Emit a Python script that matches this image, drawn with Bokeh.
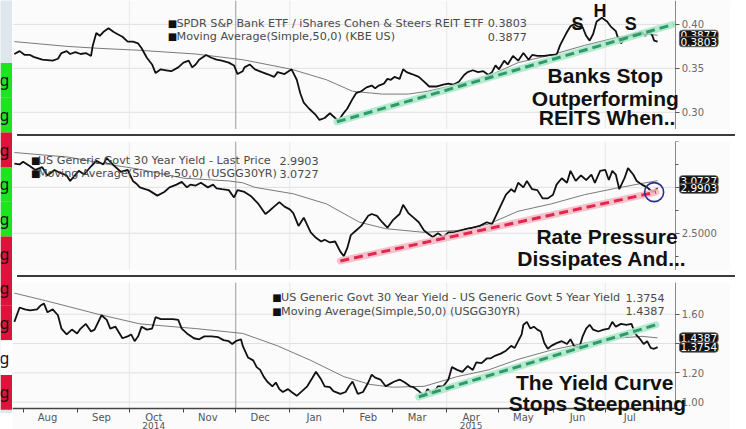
import numpy as np
from bokeh.plotting import figure
from bokeh.models import Range1d, FixedTicker, Label, Div, NumeralTickFormatter
from bokeh.layouts import row, column
from bokeh.embed import file_html
from bokeh.resources import INLINE
from bokeh.core.properties import value

# ---------------- data (x = calendar days counted from 2014-07-28) ----------------
month_mid_days = [18, 49, 79, 110, 140, 171, 202, 230, 261, 291, 322, 352]
month_labels = ["Aug", "Sep", "Oct", "Nov", "Dec", "Jan", "Feb", "Mar", "Apr", "May", "Jun", "Jul"]
year_days = [79, 261]
year_labels = ["2014", "2015"]
month_start_days = [4, 35, 65, 96, 126, 157, 188, 216, 247, 277, 308, 338, 369]
quarter_start_days = [65, 157, 247, 338]
cursor_days = [126]

# KBE / ICF ratio
bank_days = [-1, 2, 5, 8, 10, 15, 21, 24, 26, 29, 31, 34, 37, 40, 43, 44, 46, 48, 50, 53,
             56, 58, 61, 64, 67, 70, 72, 75, 78, 80, 83, 86, 89, 93, 96, 99, 101, 103, 105, 109,
             112, 115, 118, 122, 125, 127, 130, 131, 134, 137, 141, 144, 148, 150, 154, 158, 161, 163, 165, 168,
             172, 174, 177, 180, 183, 185, 187, 190, 193, 195, 198, 201, 204, 206, 208, 211, 213, 215, 217, 220,
             222, 224, 227, 231, 234, 237, 241, 245, 248, 251, 254, 257, 259, 262, 265, 268, 271, 273, 275, 277,
             280, 282, 285, 288, 291, 294, 296, 299, 303, 307, 310, 312, 314, 316, 318, 320, 322, 325, 327, 329,
             331, 333, 336, 339, 341, 344, 345, 347, 349, 352, 355, 359, 361, 363, 365, 366, 368]
bank_vals = [0.3663, 0.3696, 0.3652, 0.3652, 0.3630, 0.3598, 0.3587, 0.3609, 0.3674, 0.3696,
             0.3663, 0.3685, 0.3663, 0.3674, 0.3641, 0.3761, 0.3902, 0.3870, 0.3913, 0.3957,
             0.3913, 0.3891, 0.3859, 0.3804, 0.3804, 0.3783, 0.3728, 0.3620, 0.3544, 0.3446,
             0.3489, 0.3478, 0.3467, 0.3511, 0.3565, 0.3587, 0.3511, 0.3544, 0.3598, 0.3652,
             0.3620, 0.3598, 0.3587, 0.3565, 0.3533, 0.3435, 0.3467, 0.3511, 0.3544, 0.3489,
             0.3457, 0.3435, 0.3402, 0.3457, 0.3435, 0.3489, 0.3370, 0.3217, 0.3109, 0.3043,
             0.2967, 0.2913, 0.2935, 0.2989, 0.2935, 0.2902, 0.2967, 0.3043, 0.3152, 0.3217,
             0.3239, 0.3283, 0.3304, 0.3272, 0.3304, 0.3326, 0.3380, 0.3370, 0.3402, 0.3380,
             0.3489, 0.3457, 0.3435, 0.3402, 0.3348, 0.3293, 0.3293, 0.3315, 0.3326, 0.3315,
             0.3348, 0.3424, 0.3457, 0.3478, 0.3457, 0.3467, 0.3424, 0.3457, 0.3533, 0.3489,
             0.3587, 0.3544, 0.3641, 0.3587, 0.3674, 0.3598, 0.3652, 0.3641, 0.3641, 0.3652,
             0.3652, 0.3761, 0.3837, 0.3913, 0.3978, 0.4000, 0.3978, 0.3967, 0.3870, 0.3815,
             0.3891, 0.4032, 0.4076, 0.4032, 0.3978, 0.3924, 0.3859, 0.3783, 0.3837, 0.3870,
             0.3891, 0.3913, 0.3870, 0.3924, 0.3870, 0.3815, 0.3803]
bank_ma_days = [-1, 29, 47, 70, 103, 130, 158, 178, 193, 210, 225, 236, 253, 271, 288, 307, 326, 344, 359, 368]
bank_ma_vals = [0.3804, 0.3750, 0.3728, 0.3706, 0.3663, 0.3598, 0.3489, 0.3370, 0.3239, 0.3207,
                0.3207, 0.3239, 0.3315, 0.3413, 0.3565, 0.3652, 0.3761, 0.3848, 0.3891, 0.3877]
bank_last, bank_ma_last = 0.3803, 0.3877

# US 30Y yield
yld_days = [-1, 2, 4, 8, 11, 15, 18, 22, 25, 29, 31, 36, 39, 43, 46, 50, 52, 56, 60, 64,
            67, 69, 71, 74, 76, 81, 85, 88, 92, 95, 98, 100, 103, 106, 110, 113, 115, 118, 122, 125,
            127, 131, 135, 139, 143, 145, 148, 151, 154, 157, 159, 162, 165, 169, 172, 175, 177, 180, 183, 186,
            188, 190, 192, 195, 198, 202, 204, 207, 210, 213, 216, 220, 222, 225, 228, 231, 234, 236, 239, 242,
            245, 248, 251, 255, 259, 262, 266, 270, 273, 277, 281, 284, 286, 288, 291, 293, 296, 299, 302, 305,
            308, 310, 313, 316, 318, 321, 324, 327, 330, 332, 335, 338, 340, 342, 344, 346, 349, 351, 354, 356,
            359, 362, 365, 368]
yld_vals = [3.26, 3.25, 3.28, 3.23, 3.19, 3.22, 3.13, 3.19, 3.16, 3.13, 3.07, 3.18, 3.14, 3.23, 3.29, 3.25,
            3.32, 3.24, 3.17, 3.19, 3.07, 3.04, 3.00, 2.98, 2.97, 2.91, 2.95, 3.00, 3.03, 3.06, 3.00, 3.03,
            3.02, 3.05, 3.00, 3.03, 2.99, 2.98, 2.97, 2.89, 2.97, 2.95, 2.90, 2.82, 2.71, 2.74, 2.79, 2.84,
            2.79, 2.76, 2.72, 2.58, 2.67, 2.51, 2.45, 2.41, 2.43, 2.40, 2.41, 2.30, 2.25, 2.34, 2.48, 2.53,
            2.58, 2.69, 2.71, 2.69, 2.62, 2.56, 2.64, 2.71, 2.81, 2.72, 2.67, 2.62, 2.53, 2.50, 2.46, 2.50,
            2.46, 2.51, 2.51, 2.53, 2.55, 2.56, 2.58, 2.62, 2.60, 2.76, 2.92, 2.98, 2.95, 3.05, 3.00, 3.07,
            2.98, 2.97, 2.88, 2.88, 2.92, 3.03, 3.10, 3.05, 3.18, 3.07, 3.13, 3.08, 3.14, 3.05, 3.18, 3.19,
            3.08, 3.18, 3.14, 2.98, 3.10, 3.21, 3.14, 3.07, 3.03, 3.00, 2.95, 2.9903]
yld_ma_days = [-1, 30, 50, 70, 96, 122, 130, 137, 159, 178, 197, 212, 234, 253, 271, 288, 307, 326, 344, 358, 368]
yld_ma_vals = [3.38, 3.33, 3.26, 3.20, 3.10, 3.07, 3.05, 3.00, 2.93, 2.82, 2.62, 2.55, 2.51, 2.53, 2.60,
               2.74, 2.82, 2.92, 2.99, 3.04, 3.0727]
yld_last, yld_ma_last = 2.9903, 3.0727

# 30Y - 5Y spread
curve_days = [-1, 2, 5, 8, 12, 14, 16, 18, 21, 24, 26, 29, 32, 35, 37, 40, 43, 45, 49, 52,
              54, 57, 61, 64, 66, 68, 70, 72, 75, 78, 80, 83, 86, 90, 93, 95, 98, 102, 105, 108,
              112, 116, 119, 122, 124, 126, 129, 130, 133, 136, 138, 140, 142, 144, 147, 149, 151, 153, 156, 158,
              161, 164, 167, 170, 172, 175, 177, 180, 182, 186, 189, 191, 193, 196, 199, 202, 204, 206, 209, 212,
              214, 217, 220, 223, 226, 228, 231, 234, 236, 239, 242, 245, 248, 250, 253, 256, 259, 262, 264, 267,
              270, 272, 275, 278, 281, 284, 286, 288, 290, 291, 293, 295, 297, 299, 301, 303, 305, 307, 310, 313,
              316, 318, 320, 323, 325, 327, 329, 331, 334, 337, 340, 342, 344, 347, 350, 353, 355, 358, 360, 362,
              364, 366, 368]
curve_vals = [1.548, 1.646, 1.633, 1.626, 1.633, 1.659, 1.672, 1.613, 1.633, 1.593, 1.502, 1.462, 1.495,
              1.469, 1.502, 1.534, 1.482, 1.495, 1.593, 1.561, 1.502, 1.515, 1.436, 1.449, 1.462, 1.416,
              1.449, 1.515, 1.495, 1.502, 1.580, 1.567, 1.567, 1.567, 1.561, 1.502, 1.469, 1.436, 1.429,
              1.449, 1.449, 1.443, 1.423, 1.416, 1.397, 1.416, 1.429, 1.384, 1.305, 1.285, 1.239, 1.220,
              1.174, 1.141, 1.108, 1.134, 1.089, 1.069, 1.089, 1.069, 1.043, 1.075, 1.108, 1.167, 1.207,
              1.154, 1.108, 1.102, 1.075, 1.056, 1.069, 1.108, 1.141, 1.056, 1.069, 1.134, 1.187, 1.167,
              1.154, 1.108, 1.121, 1.141, 1.154, 1.134, 1.108, 1.102, 1.075, 1.043, 1.089, 1.056, 1.108,
              1.108, 1.154, 1.239, 1.220, 1.207, 1.246, 1.220, 1.272, 1.266, 1.298, 1.298, 1.318, 1.331,
              1.351, 1.384, 1.370, 1.416, 1.462, 1.528, 1.548, 1.502, 1.515, 1.495, 1.482, 1.403, 1.364,
              1.384, 1.403, 1.416, 1.397, 1.429, 1.384, 1.370, 1.449, 1.502, 1.528, 1.495, 1.482, 1.495,
              1.502, 1.548, 1.515, 1.534, 1.528, 1.534, 1.469, 1.429, 1.397, 1.416, 1.370, 1.364, 1.3754]
curve_ma_days = [-1, 17, 47, 71, 103, 130, 150, 169, 188, 203, 216, 234, 253, 271, 288, 307, 326, 344, 359, 368]
curve_ma_vals = [1.744, 1.692, 1.600, 1.534, 1.502, 1.469, 1.384, 1.285, 1.174, 1.121, 1.102, 1.108,
                 1.174, 1.220, 1.292, 1.355, 1.403, 1.436, 1.449, 1.4387]
curve_last, curve_ma_last = 1.3754, 1.4387

# hand-drawn trend lines
bank_trend_days, bank_trend_vals = [184, 377], [0.2891, 0.4000]
rate_trend_days, rate_trend_vals = [186, 367], [2.198, 2.948]
curve_trend_days, curve_trend_vals = [231, 367], [1.036, 1.528]
circle_days, circle_vals = [366], [2.948]

# left strip (neighbouring window)
strip_colors = ["#1fe31f", "#1fe31f", "#dc143c", "#1fe31f", "#1fe31f",
                "#dc143c", "#dc143c", "#dc143c", "#ffffff", "#dc143c"]
strip_text = ["g"] * 10

# ---------------- styling helpers ----------------
BG = "#fbfbfb"
GRAY_TXT = "#4a4a4a"
LEG_FONT = "DejaVu Sans"
FRAME_W = 718
X0, X1 = -2.07, 409.8      # visible day range across the whole panel width
AXIS_DAY = 378.4           # where the right value axis sits


def make_panel(frame_h, ylo, yhi, data_lo, ticks, minor, fmt, with_x=False):
    p = figure(frame_width=FRAME_W, frame_height=frame_h,
               x_range=Range1d(X0, X1), y_range=Range1d(ylo, yhi),
               x_axis_type="linear" if with_x else None, y_axis_location="right",
               output_backend="svg", toolbar_location=None,
               min_border_left=0, min_border_right=0, min_border_top=0, min_border_bottom=0,
               background_fill_color=BG, border_fill_color=BG, outline_line_color=None)
    p.xgrid.visible = False
    p.ygrid.visible = False
    ax = p.yaxis[0]
    ax.fixed_location = AXIS_DAY
    ax.bounds = (data_lo, yhi)
    ax.ticker = FixedTicker(ticks=ticks, minor_ticks=minor)
    ax.formatter = NumeralTickFormatter(format=fmt)
    ax.axis_line_color = "#8a8a8a"
    ax.major_tick_line_color = "#555555"
    ax.major_tick_out = 4
    ax.major_tick_in = 0
    ax.minor_tick_line_color = "#555555" if minor else None
    ax.minor_tick_out = 3
    ax.minor_tick_in = 0
    ax.major_label_text_font = LEG_FONT
    ax.major_label_text_font_size = "10px"
    ax.major_label_text_color = "#6a6a6a"
    ax.major_label_standoff = 2
    # grid lines, kept inside the data area
    nt = len(ticks)
    p.segment(x0=[X0] * nt, x1=[AXIS_DAY] * nt, y0=ticks, y1=ticks,
              line_color="#e0e0e0", line_width=1)
    nq = len(quarter_start_days)
    p.segment(x0=quarter_start_days, x1=quarter_start_days, y0=[data_lo] * nq, y1=[yhi] * nq,
              line_color="#e8e8e8", line_width=1)
    p.segment(x0=cursor_days, x1=cursor_days, y0=[data_lo], y1=[yhi],
              line_color="#9a9a9a", line_width=1)
    return p


def txt(p, x, y, text, size="11.2px", color=GRAY_TXT, font=LEG_FONT, style="normal",
        align="left", baseline="middle", **kw):
    p.add_layout(Label(x=x, y=y, text=text, text_font=font, text_font_size=size,
                       text_color=color, text_font_style=style, text_align=align,
                       text_baseline=baseline, **kw))


def legend(p, sq_x, tx_x, val_x, y1, y2, line1, line2, v1, v2):
    txt(p, sq_x, y1, "■", size="10px", color="#111111")
    txt(p, sq_x, y2, "■", size="10px", color="#111111")
    txt(p, tx_x, y1, line1)
    txt(p, tx_x, y2, line2)
    txt(p, val_x, y1, v1, align="right")
    txt(p, val_x, y2, v2, align="right")


def value_tags(p, ma_v, last_v):
    for v in (ma_v, last_v):
        p.add_layout(Label(x=380.5, y=v, text="{:.4f}".format(v), text_font=LEG_FONT,
                           text_font_size="10.5px", text_color="white", text_align="left",
                           text_baseline="middle", background_fill_color="#111111",
                           border_line_color="#666666", padding=1, border_radius=3))


def big(p, x, y, text):
    txt(p, x, y, text, size="21px", color="#111111", font="Liberation Sans", style="bold",
        align="center", baseline="alphabetic")


def trend(p, xs, ys, dash_color, glow_color):
    p.line(xs, ys, line_color=glow_color, line_width=7, line_alpha=0.85, line_cap="round")
    p.line(xs, ys, line_color=dash_color, line_width=3, line_dash="9 5")


# ---------------- panel 1 : banks / REITs ----------------
p1 = make_panel(129, 0.2804, 0.42717, 0.2804, [0.30, 0.35, 0.40], [], "0.00")
p1.line(bank_ma_days, bank_ma_vals, line_color="#7a7a7a", line_width=1)
p1.line(bank_days, bank_vals, line_color="#111111", line_width=1.8)
trend(p1, bank_trend_days, bank_trend_vals, "#2f9a68", "#a8e8c8")
legend(p1, 87, 92, 293, 0.4011, 0.3859,
       "SPDR S&P Bank ETF / iShares Cohen & Steers REIT ETF",
       "Moving Average(Simple,50,0) (KBE US)", "0.3803", "0.3877")
value_tags(p1, bank_ma_last, bank_last)
for sx, sy, s in [(322, 0.400, "S"), (335, 0.4150, "H"), (352.6, 0.400, "S")]:
    txt(p1, sx, sy, s, size="18px", color="#111111", font="Liberation Sans", style="bold",
        align="center", baseline="alphabetic")
big(p1, 338, 0.3413, "Banks Stop")
big(p1, 338, 0.3160, "Outperforming")
big(p1, 339, 0.2945, "REITS When..")

# ---------------- panel 2 : 30Y yield ----------------
p2 = make_panel(129, 2.094, 3.500, 2.094, [2.5, 3.0], [2.25, 2.75, 3.25, 3.5], "0.0000")
p2.line(yld_ma_days, yld_ma_vals, line_color="#7a7a7a", line_width=1)
p2.line(yld_days, yld_vals, line_color="#111111", line_width=1.8)
trend(p2, rate_trend_days, rate_trend_vals, "#e2264d", "#f5b7c3")
p2.scatter(circle_days, circle_vals, marker="circle", size=19, fill_color=None,
           line_color="#2b2f8f", line_width=1.6)
legend(p2, 8.5, 12.5, 173.5, 3.292, 3.146,
       "US Generic Govt 30 Year Yield - Last Price",
       "Moving Average(Simple,50,0) (USGG30YR)", "2.9903", "3.0727")
value_tags(p2, yld_ma_last, yld_last)
big(p2, 339, 2.460, "Rate Pressure")
big(p2, 336, 2.220, "Dissipates And...")

# ---------------- panel 3 : 30Y - 5Y ----------------
AXIS_V = 0.9574
p3 = make_panel(151, 0.786, 1.8164, AXIS_V, [1.0, 1.2, 1.4, 1.6], [], "0.00", with_x=True)
p3.line(curve_ma_days, curve_ma_vals, line_color="#7a7a7a", line_width=1)
p3.line(curve_days, curve_vals, line_color="#111111", line_width=1.8)
trend(p3, curve_trend_days, curve_trend_vals, "#2f9a68", "#a8e8c8")
legend(p3, 147, 152, 372, 1.7115, 1.6197,
       "US Generic Govt 30 Year Yield - US Generic Govt 5 Year Yield",
       "Moving Average(Simple,50,0) (USGG30YR)", "1.3754", "1.4387")
value_tags(p3, curve_ma_last, curve_last)
big(p3, 332, 1.134, "The Yield Curve")
big(p3, 333.5, 0.993, "Stops Steepening")

xa = p3.xaxis[0]
xa.fixed_location = AXIS_V
xa.bounds = (X0, AXIS_DAY)
xa.ticker = FixedTicker(ticks=month_mid_days, minor_ticks=month_start_days)
xa.major_label_overrides = {d: m for d, m in zip(month_mid_days, month_labels)}
xa.major_tick_line_color = None
xa.major_tick_out = 4
xa.minor_tick_line_color = "#444444"
xa.minor_tick_out = 4
xa.minor_tick_in = 0
xa.axis_line_color = "#444444"
xa.axis_line_width = 1.5
xa.major_label_text_font = LEG_FONT
xa.major_label_text_font_size = "10px"
xa.major_label_text_color = "#555555"
xa.major_label_standoff = 0
for d, yl in zip(year_days, year_labels):
    txt(p3, d, 0.841, yl, size="9px", color="#555555", align="center")

# ---------------- left strip ----------------
n = len(strip_colors)
strip = figure(frame_width=12, frame_height=413, x_range=Range1d(0, 1),
               y_range=Range1d(10.11, -1.806), x_axis_type=None, y_axis_type=None,
               output_backend="svg", toolbar_location=None, min_border=0,
               background_fill_color="#dfe6ec", border_fill_color="#dfe6ec",
               outline_line_color=None)
tops = np.arange(n)
strip.quad(left=0, right=1, top=tops, bottom=tops + 1, fill_color=strip_colors, line_color=None)
strip.text(x=np.full(n, -0.08), y=tops + 0.5, text=strip_text, text_font=value("Noto Sans"),
           text_font_size="16px", text_baseline="middle", text_align="left", text_color="#111111")

sep1 = Div(width=718, height=2, styles={"background-color": "#3c3c3c"})
sep2 = Div(width=718, height=2, styles={"background-color": "#3c3c3c"})

layout = row(strip, column(p1, sep1, p2, sep2, p3))
open("out.html", "w").write(file_html(layout, INLINE))
